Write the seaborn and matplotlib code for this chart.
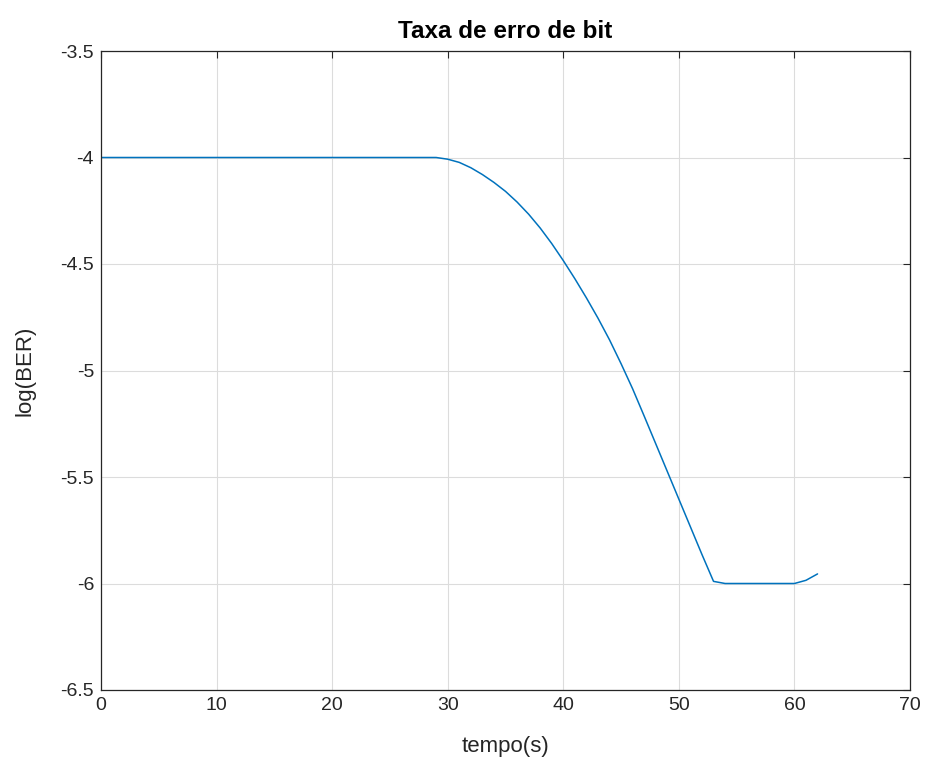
import numpy as np
import pandas as pd
import matplotlib
matplotlib.use("Agg")
import matplotlib.pyplot as plt
import seaborn as sns

# Data
tempo = list(range(0, 63))
log_ber = ([-4.0] * 30 +
           [-4.008, -4.023, -4.048, -4.080, -4.117, -4.159, -4.209, -4.266, -4.331, -4.404,
            -4.484, -4.569, -4.659, -4.754, -4.856, -4.968, -5.086, -5.214, -5.344, -5.474,
            -5.604, -5.734, -5.864, -5.99, -6.0, -6.0, -6.0, -6.0, -6.0, -6.0,
            -6.0, -5.985, -5.955])

xticks = [0, 10, 20, 30, 40, 50, 60, 70]
yticks = [-6.5, -6, -5.5, -5, -4.5, -4, -3.5]
ytick_labels = ["-6.5", "-6", "-5.5", "-5", "-4.5", "-4", "-3.5"]

df = pd.DataFrame({"tempo": tempo, "log_ber": log_ber})

sns.set_theme(style="white")
plt.rcParams['font.family'] = ['Liberation Sans', 'DejaVu Sans']

fig = plt.figure(figsize=(9.27, 7.69), dpi=100)
ax = fig.add_axes([101/927, 1 - 690/769, (910 - 101)/927, (690 - 51)/769])

sns.lineplot(data=df, x="tempo", y="log_ber", ax=ax, color="#0072BD", linewidth=1.1)

ax.set_xlim(0, 70)
ax.set_ylim(-6.5, -3.5)
ax.set_xticks(xticks)
ax.set_yticks(yticks)
ax.set_yticklabels(ytick_labels)
ax.grid(True, color="#dcdcdc", linewidth=0.8)
ax.set_axisbelow(True)
for s in ax.spines.values():
    s.set_color("#262626")
    s.set_linewidth(0.9)
    s.set_visible(True)
ax.tick_params(direction="in", length=5, width=0.8, colors="#262626",
               top=True, right=True, labelsize=14, pad=5)
ax.set_xlabel("tempo(s)", fontsize=16, color="#262626", labelpad=16)
ax.set_ylabel("log(BER)", fontsize=16, color="#262626", labelpad=18)
ax.set_title("Taxa de erro de bit", fontsize=17.5, fontweight="bold", color="black", pad=9)

fig.savefig("out.png", dpi=100, facecolor="white")
